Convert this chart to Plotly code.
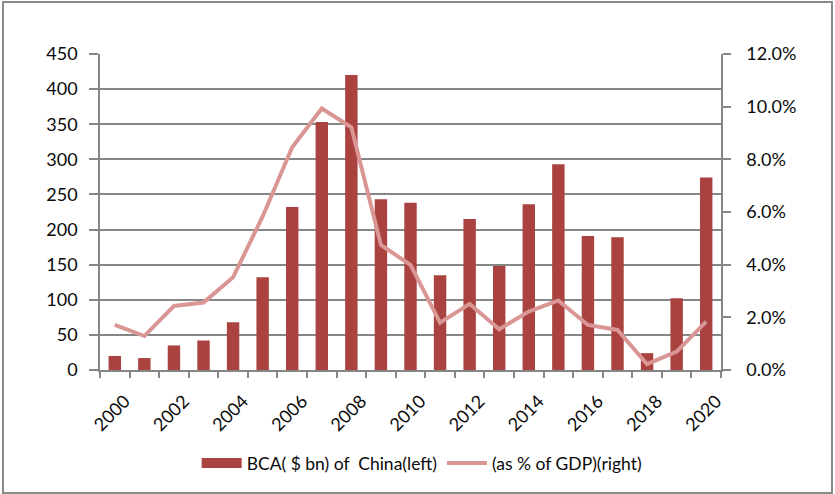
import plotly.graph_objects as go

years = list(range(2000, 2021))
bca_bn = [20, 17, 35, 42, 68, 132, 232, 353, 420, 243, 238, 135, 215, 148, 236, 293, 191, 189, 24, 102, 274]
pct_gdp = [1.71, 1.29, 2.43, 2.56, 3.52, 5.83, 8.46, 9.93, 9.22, 4.75, 3.99, 1.80, 2.51, 1.55, 2.22, 2.64, 1.71, 1.52, 0.22, 0.70, 1.84]
label_years = list(range(2000, 2021, 2))

bar_name = "BCA( $ bn) of\u00a0 China(left)"
line_name = "(as % of GDP)(right)"

FONT = "Lato"
TXT = "#0a0a0a"
GRID = "#868686"
BAR = "#AA4240"
LINE = "#D99694"

fig = go.Figure()
fig.add_trace(go.Bar(
    x=years, y=bca_bn, name=bar_name, showlegend=False,
    marker=dict(color=BAR, line=dict(width=0)),
    yaxis="y",
))
fig.add_trace(go.Scatter(
    x=years, y=[v / 100 for v in pct_gdp], name=line_name, showlegend=False,
    mode="lines", line=dict(color=LINE, width=4),
    yaxis="y2",
))
# legend swatches (wide bar rectangle like the original)
fig.add_trace(go.Scatter(x=[None], y=[None], name=bar_name, mode="lines",
                         line=dict(color=BAR, width=12), yaxis="y"))
fig.add_trace(go.Scatter(x=[None], y=[None], name=line_name, mode="lines",
                         line=dict(color=LINE, width=4), yaxis="y2"))

L, R, T, B = 100, 114, 54, 124
W, H = 835, 494
pw, ph = W - L - R, H - T - B

fig.update_layout(
    width=W, height=H,
    margin=dict(l=L, r=R, t=T, b=B, autoexpand=False),
    paper_bgcolor="white", plot_bgcolor="white",
    bargap=0.58,
    font=dict(family=FONT, size=18, color=TXT),
    showlegend=True,
    legend=dict(orientation="h", xref="container", yref="container",
                x=0.505, xanchor="center", y=1 - 463 / H, yanchor="middle",
                font=dict(size=17.5, color=TXT), itemwidth=40,
                traceorder="normal"),
    xaxis=dict(
        range=[1999.5, 2020.5], tickmode="array", tickvals=label_years,
        ticktext=[str(y) for y in label_years], tickangle=-45,
        ticks="", showgrid=False, zeroline=False, automargin=False,
        showline=True, linecolor=GRID, linewidth=1.5,
        minor=dict(tick0=1999.5, dtick=1, ticks="outside", ticklen=6,
                   tickcolor=GRID, tickwidth=1.5, showgrid=False),
        tickfont=dict(size=18),
        ticklabelstandoff=12, ticklabelshift=10,
    ),
    yaxis=dict(
        range=[0, 450], dtick=50, tick0=0, automargin=False,
        showgrid=True, gridcolor=GRID, gridwidth=1.5,
        zeroline=False, showline=True, linecolor=GRID, linewidth=1.5,
        ticks="outside", ticklen=9, tickcolor=GRID, tickwidth=1.5,
        tickfont=dict(size=18), ticklabelstandoff=8,
    ),
    yaxis2=dict(
        range=[0, 0.12], dtick=0.02, tick0=0, tickformat=".1%",
        overlaying="y", side="right", showgrid=False, zeroline=False,
        automargin=False,
        showline=True, linecolor=GRID, linewidth=1.5,
        ticks="outside", ticklen=8, tickcolor=GRID, tickwidth=1.5,
        tickfont=dict(size=18), ticklabelstandoff=12,
    ),
)

# outer frame
fig.add_shape(type="rect", xref="paper", yref="paper",
              x0=(3 - L) / pw, x1=(832 - L) / pw,
              y0=(H - B - 493) / ph, y1=(H - B - 2) / ph,
              line=dict(color="#8a8a8a", width=2), fillcolor="rgba(0,0,0,0)",
              layer="below")

fig.write_html("out.html", config={"displayModeBar": False},
               post_script="document.body.style.margin='0';")
